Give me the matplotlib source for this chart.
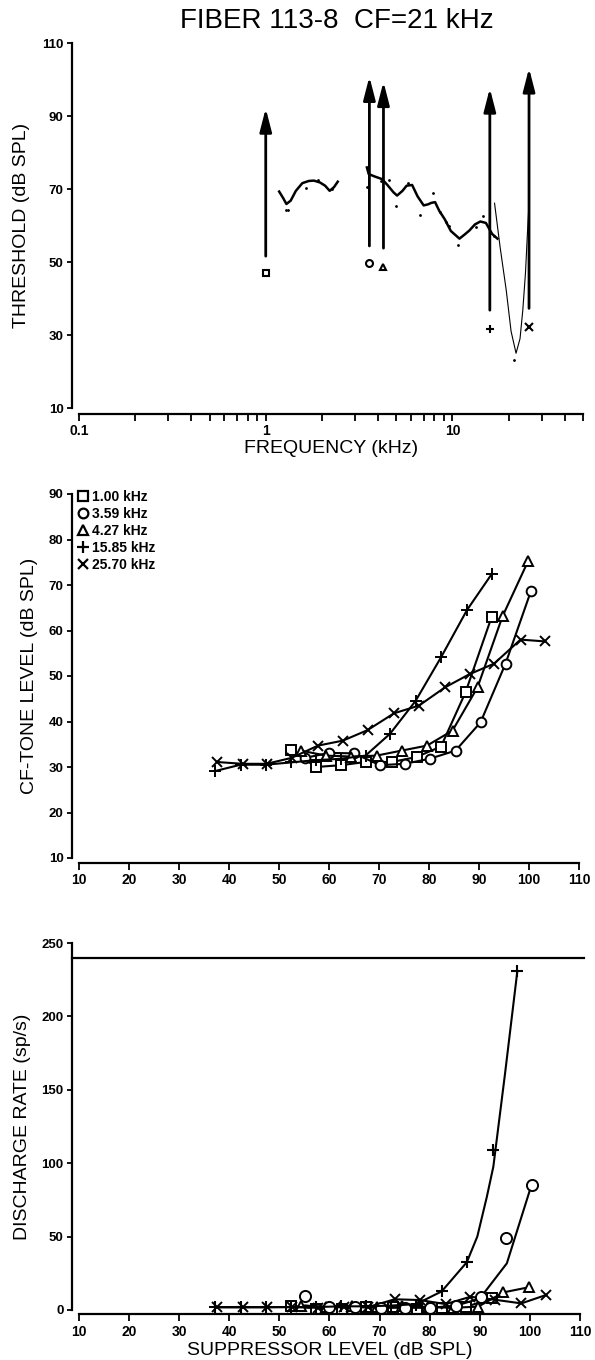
import matplotlib
matplotlib.use("Agg")
import matplotlib.pyplot as plt
from matplotlib.lines import Line2D
from matplotlib.ticker import FixedLocator, FixedFormatter, NullFormatter

plt.rcParams['font.family'] = ['Liberation Sans', 'DejaVu Sans']


# ---------- top panel: threshold tuning curve ----------
tc_freq_a = [1.18, 1.24, 1.29, 1.36, 1.45, 1.57, 1.70, 1.81, 1.95, 2.08, 2.20, 2.32, 2.43]
tc_db_a = [69.3, 67.5, 65.9, 66.8, 69.5, 71.6, 72.2, 72.3, 71.8, 70.9, 69.5, 70.5, 72.0]

tc_freq_b = [3.48, 3.56, 3.80, 4.20, 4.50, 4.83, 5.05, 5.40, 5.68, 6.08, 6.50, 7.01, 7.40,
             7.70, 8.07, 8.50, 9.07, 9.80, 10.9, 11.6, 12.3, 13.2, 14.1, 15.1, 16.3, 17.4]
tc_db_b = [75.9, 74.1, 73.5, 72.7, 71.0, 69.1, 68.2, 69.5, 70.9, 71.1, 68.0, 65.5, 65.8,
           66.2, 66.4, 64.0, 61.8, 58.5, 56.4, 57.5, 58.6, 60.3, 61.1, 60.7, 57.7, 56.4]

tc_freq_c = [16.8, 18.0, 19.4, 20.6, 21.9, 23.0, 23.8, 24.6, 25.2, 25.8]
tc_db_c = [66.1, 54.0, 42.3, 31.0, 25.0, 29.0, 36.8, 47.0, 57.9, 67.9]

dots_freq = [1.28, 1.31, 1.64, 1.90, 2.25, 3.50, 4.15, 4.60, 5.00, 5.77,
             6.70, 7.85, 8.60, 9.20, 9.60, 10.65, 13.4, 14.6, 16.6, 21.4]
dots_db = [64.2, 64.2, 70.4, 72.6, 70.0, 70.5, 72.2, 72.5, 65.4, 71.6,
           62.9, 68.8, 63.8, 61.0, 60.0, 54.7, 59.5, 62.6, 57.0, 23.2]

# suppressor tones
supp_freq = [1.00, 3.59, 4.27, 15.85, 25.70]
supp_labels = ["1.00 kHz", "3.59 kHz", "4.27 kHz", "15.85 kHz", "25.70 kHz"]
supp_marker_db = [46.9, 49.6, 48.7, 31.6, 32.3]
arrow_base_db = [51.6, 54.4, 53.8, 36.8, 37.3]
arrow_tip_db = [92.1, 100.8, 99.4, 97.6, 103.1]

# ---------- middle panel: CF-tone level vs suppressor level ----------
lvl_sq = [52.3, 57.4, 62.4, 67.3, 72.6, 77.5, 82.4, 87.3, 92.5]
cf_sq = [33.8, 30.0, 30.4, 31.1, 31.1, 32.2, 34.5, 46.4, 62.9]

lvl_ci = [55.2, 60.0, 65.0, 70.2, 75.1, 80.1, 85.3, 90.3, 95.3, 100.4]
cf_ci = [32.0, 33.1, 33.0, 30.4, 30.7, 31.8, 33.6, 39.8, 52.7, 68.7]

lvl_tr = [54.4, 59.4, 64.4, 69.5, 74.5, 79.6, 84.7, 89.7, 94.7, 99.8]
cf_tr = [33.6, 32.5, 32.3, 32.5, 33.6, 34.7, 38.0, 47.5, 63.1, 75.2]

lvl_pl = [37.2, 42.3, 47.3, 52.3, 57.3, 62.3, 67.3, 72.2, 77.3, 82.4, 87.6, 92.6]
cf_pl = [29.1, 30.5, 30.5, 31.0, 31.5, 31.8, 32.5, 37.3, 44.5, 54.1, 64.5, 72.5]

lvl_x = [37.6, 42.7, 47.5, 52.5, 57.8, 62.8, 67.7, 73.0, 78.0, 83.2, 88.1, 93.0, 98.3, 103.2]
cf_x = [31.1, 30.7, 30.7, 32.0, 34.7, 35.8, 38.1, 41.8, 43.5, 47.5, 50.4, 52.7, 58.0, 57.6]

# ---------- bottom panel: discharge rate vs suppressor level ----------
rate_sq = [3.0, 1.0, 1.0, 2.0, 2.0, 1.0, 1.5, 2.2, 8.0]
rate_ci = [9.3, 2.0, 2.0, 1.5, 1.5, 1.5, 3.0, 9.0, 48.8, 85.1]
rate_tr = [3.0, 2.0, 3.0, 2.0, 3.0, 2.0, 1.5, 2.3, 12.0, 15.5]
lvl_pl_rate = [37.2, 42.3, 47.3, 52.3, 57.3, 62.3, 67.3, 72.3, 77.3, 82.4, 87.5, 92.6, 97.5]
rate_pl = [1.8, 1.8, 1.8, 2.0, 2.0, 2.5, 2.5, 3.0, 3.5, 12.7, 32.4, 108.8, 230.8]
rate_x = [2.0, 2.0, 2.0, 2.0, 1.5, 2.0, 2.0, 7.3, 6.8, 4.0, 9.0, 7.0, 4.5, 10.2]

# smoothed curves drawn through the + and o points
fit_lvl_pl = [37.2, 42.3, 47.3, 52.3, 57.3, 62.3, 67.3, 72.3, 77.3, 82.4, 87.4, 89.5, 91.4, 92.7, 95.0, 97.5]
fit_rate_pl = [1.8, 1.8, 1.8, 2.0, 2.0, 2.5, 2.5, 3.0, 4.0, 12.7, 32.5, 50.0, 77.0, 97.6, 160.0, 231.0]
fit_lvl_ci = [55.2, 60.0, 65.0, 70.2, 75.1, 80.1, 85.3, 90.0, 95.4, 100.0]
fit_rate_ci = [3.0, 2.0, 2.0, 1.5, 1.5, 1.5, 3.0, 7.8, 31.8, 81.7]

max_rate = 240

markers = ['s', 'o', '^', '+', 'x']

W, H = 595, 1360


def axes_px(left, right, top, bottom):
    return [left / W, 1 - bottom / H, (right - left) / W, (bottom - top) / H]


def style_axes(ax, left_off, bottom_off):
    for s in ['top', 'right']:
        ax.spines[s].set_visible(False)
    ax.spines['left'].set_position(('outward', left_off))
    ax.spines['bottom'].set_position(('outward', bottom_off))
    for s in ['left', 'bottom']:
        ax.spines[s].set_linewidth(1.6)
    ax.tick_params(axis='both', which='both', direction='out', width=1.3, pad=2.5)
    ax.tick_params(axis='x', which='both', length=5, labelsize=10)
    ax.tick_params(axis='y', which='both', length=3.5, labelsize=9.5)
    for lab in ax.get_xticklabels() + ax.get_yticklabels():
        lab.set_fontweight('bold')


fig = plt.figure(figsize=(5.95, 13.6), dpi=100)

fig.text(337 / W, 1 - 21 / H, "FIBER 113-8  CF=21 kHz", ha='center', va='center', fontsize=20)

# ---------- Top panel ----------
ax1 = fig.add_axes(axes_px(79, 583, 43, 408))
ax1.set_xscale('log')
ax1.set_xlim(0.1, 50)
ax1.set_ylim(10, 110)
ax1.plot(tc_freq_a, tc_db_a, color='k', lw=1.8)
ax1.plot(tc_freq_b, tc_db_b, color='k', lw=1.8)
ax1.plot(tc_freq_c, tc_db_c, color='k', lw=0.8)
ax1.plot(dots_freq, dots_db, ls='none', marker='.', ms=2, color='k')
for f, mdb, b, t, m in zip(supp_freq, supp_marker_db, arrow_base_db, arrow_tip_db, markers):
    ax1.annotate('', xy=(f, t), xytext=(f, b),
                 arrowprops=dict(arrowstyle='-|>,head_length=0.7,head_width=0.18',
                                 mutation_scale=20, lw=2, color='k',
                                 shrinkA=0, shrinkB=0))
    ms = 6 if m in ('+', 'x') else 5
    ax1.plot([f], [mdb], marker=m, ms=ms, mfc='white', mec='k', mew=1.5, ls='none')

ax1.xaxis.set_major_locator(FixedLocator([0.1, 1, 10]))
ax1.xaxis.set_major_formatter(FixedFormatter(["0.1", "1", "10"]))
minor = [k * d for d in (0.1, 1, 10) for k in range(2, 10) if k * d <= 50]
ax1.xaxis.set_minor_locator(FixedLocator(minor))
ax1.xaxis.set_minor_formatter(NullFormatter())
ax1.set_yticks([10, 30, 50, 70, 90, 110])
style_axes(ax1, 5, 4.3)
ax1.set_ylabel("THRESHOLD (dB SPL)", fontsize=14)
ax1.set_xlabel("FREQUENCY (kHz)", fontsize=14)
ax1.yaxis.set_label_coords(-0.115, 0.5)
ax1.xaxis.set_label_coords(0.5, -0.11)
ax1.xaxis.label.set_va('center')
ax1.yaxis.label.set_va('center')

# ---------- Middle panel ----------
ax2 = fig.add_axes(axes_px(79, 579, 494, 858))
ax2.set_xlim(10, 110)
ax2.set_ylim(10, 90)
mid_series = [(lvl_sq, cf_sq), (lvl_ci, cf_ci), (lvl_tr, cf_tr), (lvl_pl, cf_pl), (lvl_x, cf_x)]
for (xs, ys), m in zip(mid_series, markers):
    ms = 8 if m == '+' else 7
    ax2.plot(xs, ys, color='k', lw=1.5, marker=m, ms=ms, mfc='white', mec='k', mew=1.4,
             clip_on=False)
ax2.set_xticks(range(10, 111, 10))
ax2.set_yticks(range(10, 91, 10))
style_axes(ax2, 5, 3.6)
ax2.set_ylabel("CF-TONE LEVEL (dB SPL)", fontsize=14)
ax2.yaxis.set_label_coords(-0.098, 0.5)
ax2.yaxis.label.set_va('center')

handles = [Line2D([], [], ls='none', marker=m, ms=7 if m != '+' else 8, mfc='white',
                  mec='k', mew=1.6, color='k') for m in markers]
ax2.legend(handles, supp_labels, loc='upper left', bbox_to_anchor=(-0.002, 1.012),
           frameon=False, handlelength=0.7, handletextpad=0.3, labelspacing=0.22,
           borderpad=0, borderaxespad=0, prop=dict(weight='bold', size=10))

# ---------- Bottom panel ----------
ax3 = fig.add_axes(axes_px(79, 580, 943, 1310))
ax3.set_xlim(10, 110)
ax3.set_ylim(0, 250)
ax3.axhline(max_rate, xmin=-0.014, xmax=1.008, color='k', lw=1.6, clip_on=False)
ax3.plot(lvl_sq, rate_sq, color='k', lw=1.5, marker='s', ms=7, mfc='white', mew=1.4, clip_on=False)
ax3.plot(lvl_tr, rate_tr, color='k', lw=1.5, marker='^', ms=7, mfc='white', mew=1.4, clip_on=False)
ax3.plot(lvl_x, rate_x, color='k', lw=1.5, marker='x', ms=7, mew=1.4, clip_on=False)
ax3.plot(fit_lvl_ci, fit_rate_ci, color='k', lw=1.5, clip_on=False)
ax3.plot(lvl_ci, rate_ci, ls='none', marker='o', ms=8, mfc='white', mec='k', mew=1.4, clip_on=False)
ax3.plot(fit_lvl_pl, fit_rate_pl, color='k', lw=1.5, clip_on=False)
ax3.plot(lvl_pl_rate, rate_pl, ls='none', marker='+', ms=9, mec='k', mew=1.5, clip_on=False)
ax3.set_xticks(range(10, 111, 10))
ax3.set_yticks(range(0, 251, 50))
style_axes(ax3, 5, 3)
ax3.set_ylabel("DISCHARGE RATE (sp/s)", fontsize=14)
ax3.set_xlabel("SUPPRESSOR LEVEL (dB SPL)", fontsize=14)
ax3.yaxis.set_label_coords(-0.112, 0.5)
ax3.xaxis.set_label_coords(0.5, -0.109)
ax3.xaxis.label.set_va('center')
ax3.yaxis.label.set_va('center')

fig.savefig("out.png", dpi=100)
